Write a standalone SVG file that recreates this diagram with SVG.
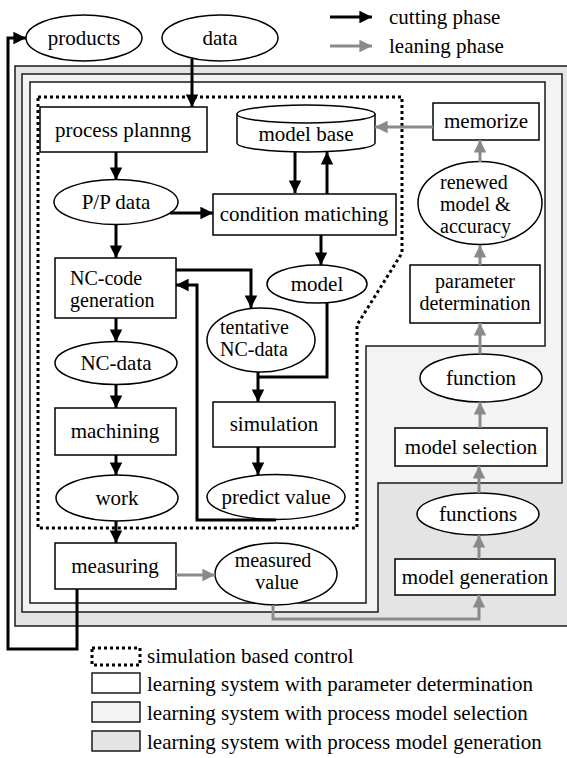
<svg xmlns="http://www.w3.org/2000/svg" width="567" height="758" viewBox="0 0 567 758">
  <style>
    text { font-family: "Liberation Serif", "Times New Roman", serif; font-size: 21px; fill: #000; }
    text.m { font-size: 20px; }
    .c { text-anchor: middle; }
    .node { fill: #fff; stroke: #000; stroke-width: 1.5; }
    .blk { fill: none; stroke: #000; stroke-width: 3; }
    .gry { fill: none; stroke: #8a8a8a; stroke-width: 3; }
    .region { stroke: #1a1a1a; stroke-width: 1.5; }
    .dotted { fill: none; stroke: #000; stroke-width: 3; stroke-dasharray: 3 3; }
  </style>
  <defs>
    <marker id="ab" viewBox="0 0 10 10" refX="10" refY="5" markerWidth="4.2" markerHeight="4.2" orient="auto" markerUnits="strokeWidth">
      <path d="M0,0 L10,5 L0,10 Z" fill="#000"/>
    </marker>
    <marker id="ag" viewBox="0 0 10 10" refX="10" refY="5" markerWidth="4.2" markerHeight="4.2" orient="auto" markerUnits="strokeWidth">
      <path d="M0,0 L10,5 L0,10 Z" fill="#8a8a8a"/>
    </marker>
  </defs>

  <!-- nested system regions -->
  <g id="regions">
    <rect class="region" x="15" y="66" width="560" height="560" fill="#e4e4e4" stroke-width="2"/>
    <path class="region" d="M22,74 H562 V483 H378 V612 H22 Z" fill="#f3f3f3"/>
    <path class="region" d="M30,82 H545 V346 H366 V603 H30 Z" fill="#fff"/>
    <path class="dotted" d="M38,97 H402 V253 L357,325 V528 H38 Z"/>
  </g>

  <!-- legend for arrow kinds -->
  <g id="legend-arrows">
    <line class="blk" x1="330" y1="17" x2="372" y2="17" marker-end="url(#ab)"/>
    <text x="389" y="24">cutting phase</text>
    <line class="gry" x1="330" y1="46" x2="372" y2="46" marker-end="url(#ag)"/>
    <text x="389" y="53">leaning phase</text>
  </g>

  <g id="products">
    <ellipse class="node" cx="84" cy="38" rx="58" ry="23"/>
    <text class="c" x="84" y="45">products</text>
  </g>
  <g id="data">
    <ellipse class="node" cx="220" cy="38" rx="58" ry="23"/>
    <text class="c" x="220" y="45">data</text>
  </g>
  <g id="process-planning">
    <rect class="node" x="40" y="107" width="167" height="45"/>
    <text class="c" x="123" y="137">process plannng</text>
  </g>
  <g id="model-base">
    <path class="node" d="M237,114 V143 A69,9 0 0 0 375,143 V114"/>
    <ellipse class="node" cx="306" cy="114" rx="69" ry="9"/>
    <text class="c" x="306" y="141">model base</text>
  </g>
  <g id="memorize">
    <rect class="node" x="433" y="103" width="106" height="37"/>
    <text class="c" x="486" y="128">memorize</text>
  </g>
  <g id="pp-data">
    <ellipse class="node" cx="116" cy="202" rx="62" ry="22.5"/>
    <text class="c" x="116" y="209">P/P data</text>
  </g>
  <g id="condition-matching">
    <rect class="node" x="213" y="194" width="183" height="41"/>
    <text class="c" x="304" y="221">condition matiching</text>
  </g>
  <g id="renewed-model">
    <ellipse class="node" cx="480" cy="203" rx="62" ry="41.5"/>
    <text class="m" x="440" y="189">renewed</text>
    <text class="m" x="440" y="211">model  &amp;</text>
    <text class="m" x="440" y="233">accuracy</text>
  </g>
  <g id="nc-code-generation">
    <rect class="node" x="55" y="258" width="121" height="60"/>
    <text class="m" x="70" y="285">NC-code</text>
    <text class="m" x="70" y="307">generation</text>
  </g>
  <g id="model">
    <ellipse class="node" cx="317" cy="284" rx="50" ry="19"/>
    <text class="c" x="317" y="291">model</text>
  </g>
  <g id="parameter-determination">
    <rect class="node" x="410" y="265" width="130" height="58"/>
    <text class="c m" x="475" y="288">parameter</text>
    <text class="c m" x="475" y="310">determination</text>
  </g>
  <g id="tentative-nc-data">
    <ellipse class="node" cx="261" cy="340" rx="54" ry="32"/>
    <text class="m" x="220" y="334">tentative</text>
    <text class="m" x="220" y="356">NC-data</text>
  </g>
  <g id="nc-data">
    <ellipse class="node" cx="116" cy="363" rx="61" ry="21.5"/>
    <text class="c" x="116" y="370">NC-data</text>
  </g>
  <g id="function">
    <ellipse class="node" cx="481" cy="378" rx="61" ry="24"/>
    <text class="c" x="481" y="385">function</text>
  </g>
  <g id="machining">
    <rect class="node" x="55" y="408" width="121" height="47"/>
    <text class="c" x="115" y="438">machining</text>
  </g>
  <g id="simulation">
    <rect class="node" x="213" y="402" width="122" height="45"/>
    <text class="c" x="274" y="431">simulation</text>
  </g>
  <g id="model-selection">
    <rect class="node" x="395" y="428" width="152" height="38"/>
    <text class="c" x="471" y="454">model selection</text>
  </g>
  <g id="work">
    <ellipse class="node" cx="117" cy="498" rx="61" ry="23"/>
    <text class="c" x="117" y="505">work</text>
  </g>
  <g id="predict-value">
    <ellipse class="node" cx="276" cy="497" rx="69" ry="22.5"/>
    <text class="c" x="276" y="504">predict value</text>
  </g>
  <g id="functions">
    <ellipse class="node" cx="478" cy="514" rx="61" ry="21"/>
    <text class="c" x="478" y="521">functions</text>
  </g>
  <g id="measuring">
    <rect class="node" x="55" y="543" width="121" height="46"/>
    <text class="c" x="115" y="573">measuring</text>
  </g>
  <g id="measured-value">
    <ellipse class="node" cx="276" cy="574" rx="61" ry="31"/>
    <text class="c m" x="273" y="567">measured</text>
    <text class="c m" x="277" y="589">value</text>
  </g>
  <g id="model-generation">
    <rect class="node" x="395" y="559" width="160" height="36"/>
    <text class="c" x="475" y="584">model generation</text>
  </g>

  <!-- connectors -->
  <g id="connectors">
    <!-- cutting phase (black) -->
    <polyline class="blk" points="77,589 77,649 8,649 8,38 26,38" marker-end="url(#ab)"/>
    <line class="blk" x1="192" y1="59" x2="192" y2="107" marker-end="url(#ab)"/>
    <line class="blk" x1="116" y1="152" x2="116" y2="180" marker-end="url(#ab)"/>
    <line class="blk" x1="170" y1="213" x2="213" y2="213" marker-end="url(#ab)"/>
    <line class="blk" x1="295" y1="152" x2="295" y2="193" marker-end="url(#ab)"/>
    <line class="blk" x1="327" y1="194" x2="327" y2="152" marker-end="url(#ab)"/>
    <line class="blk" x1="321" y1="235" x2="321" y2="265" marker-end="url(#ab)"/>
    <line class="blk" x1="116" y1="225" x2="116" y2="258" marker-end="url(#ab)"/>
    <polyline class="blk" points="176,270 251,270 251,308" marker-end="url(#ab)"/>
    <polyline class="blk" points="276,520 197,520 197,285 176,285" marker-end="url(#ab)"/>
    <line class="blk" x1="116" y1="318" x2="116" y2="342" marker-end="url(#ab)"/>
    <line class="blk" x1="116" y1="385" x2="116" y2="408" marker-end="url(#ab)"/>
    <line class="blk" x1="116" y1="455" x2="116" y2="475" marker-end="url(#ab)"/>
    <line class="blk" x1="116" y1="521" x2="116" y2="543" marker-end="url(#ab)"/>
    <polyline class="blk" points="327,303 327,377 258,377"/>
    <line class="blk" x1="258" y1="372" x2="258" y2="402" marker-end="url(#ab)"/>
    <line class="blk" x1="258" y1="447" x2="258" y2="475" marker-end="url(#ab)"/>
    <!-- leaning phase (grey) -->
    <line class="gry" x1="176" y1="575" x2="215" y2="575" marker-end="url(#ag)"/>
    <polyline class="gry" points="273,605 273,619 479,619 479,595" marker-end="url(#ag)"/>
    <line class="gry" x1="479" y1="559" x2="479" y2="535" marker-end="url(#ag)"/>
    <line class="gry" x1="479" y1="493" x2="479" y2="466" marker-end="url(#ag)"/>
    <line class="gry" x1="480" y1="428" x2="480" y2="402" marker-end="url(#ag)"/>
    <line class="gry" x1="480" y1="354" x2="480" y2="323" marker-end="url(#ag)"/>
    <line class="gry" x1="480" y1="265" x2="480" y2="245" marker-end="url(#ag)"/>
    <line class="gry" x1="480" y1="162" x2="480" y2="140" marker-end="url(#ag)"/>
    <line class="gry" x1="433" y1="127" x2="375" y2="127" marker-end="url(#ag)"/>
  </g>

  <!-- legend for system levels -->
  <g id="legend-systems">
    <rect x="92" y="648" width="48" height="17" fill="#fff" stroke="#000" stroke-width="3" stroke-dasharray="3 3"/>
    <text x="147" y="663">simulation based control</text>
    <rect x="92" y="673" width="48" height="20" fill="#fff" stroke="#1a1a1a" stroke-width="1.5"/>
    <text x="147" y="691">learning system with parameter determination</text>
    <rect x="92" y="702" width="48" height="20" fill="#f3f3f3" stroke="#1a1a1a" stroke-width="1.5"/>
    <text x="147" y="720">learning system with process model selection</text>
    <rect x="92" y="731" width="48" height="20" fill="#e4e4e4" stroke="#1a1a1a" stroke-width="1.5"/>
    <text x="147" y="749">learning system with process model generation</text>
  </g>
</svg>
